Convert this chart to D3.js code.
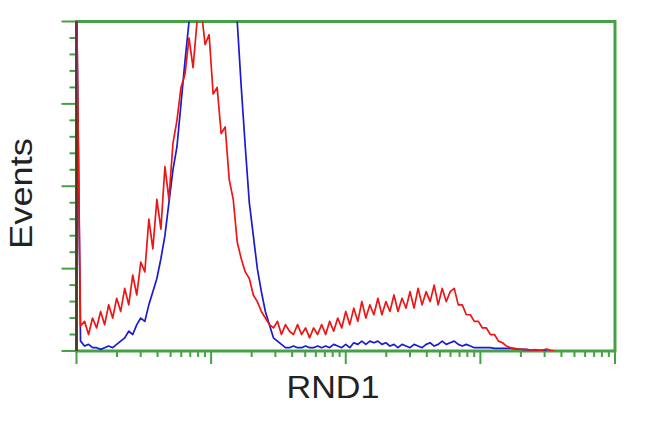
<!DOCTYPE html>
<html><head><meta charset="utf-8">
<script src="https://cdn.jsdelivr.net/npm/d3@7"></script>
<style>html,body{margin:0;padding:0;background:#fff;}svg{display:block;}</style>
</head><body>
<svg id="chart" width="650" height="432"></svg>
<script>
// Histogram channel counts (channel index = bin across the 4-decade log axis)
const redCounts = [110,7.6,9,5,10,7,12,8,14,10,16,12,19,14,23,17,27,24,40,31,46,37,56,46,63,70,80,84,95,86,100,104,93,96,78,80,66,68,52,46,33,28,24,22,17,15,12,10,8,7,9,5,8,6,5,8,5,7,4,7,5,8,5,9,6,10,7,12,8,13,9,15,10,14,11,16,11,15,12,17,12,16,13,18,13,19,14,18,15,20,14,19,15,18,19,14,14,11,11,9,9,7,7,5,5,3,2.5,1.5,1,0.8,0.6,0.5,0.5,0.3,0.4,0.2,0.3,0.6,0.2,0];
const blueCounts = [110,3,1.5,2,1,1,0.5,1,1.5,1,2,3,4,6,5,8,10,9,14,18,22,28,35,45,55,62,75,88,100,108,105,110,108,110,112,110,108,110,106,104,100,80,62,45,35,25,18,12,8,4,3,2,1,1,1.5,1,1,1.5,1,1,1.5,1,1.5,1,2,1.5,1,2,1,2.5,2,3,2,3,2.5,3,2,2.5,1.5,2,1,2,1.5,1,2,1.5,1,2,2.5,1.5,2,3,2,2.5,3,2,1.5,2,1.5,1,1,1,1,1,0.8,0.8,0.8,0.8,0.8,0.6,0.6,0.5,0.4,0.3,0.3,0.2,0.2,0];
const channelCount = 135;
const decadeTicks = [1,10,100,1000,10000];
const eventTicks = [0,25,50,75,100];
const xLabel = "RND1";
const yLabel = "Events";

const svg = d3.select("#chart");
const L = 76.5, R = 615, T = 21.5, B = 351;
const green = "#45a145";

const xCh = d3.scaleLinear().domain([0, channelCount - 1]).range([L, R]);
const xLog = d3.scaleLog().domain([1, 10000]).range([L, R]);
const y = d3.scaleLinear().domain([0, 100]).range([B, T]);

svg.append("defs").append("clipPath").attr("id","clip")
  .append("rect").attr("x", L).attr("y", T).attr("width", R - L).attr("height", B - T);

// left axis ticks (major + minor)
const yMinor = d3.range(0, 100.01, 5).filter(v => v % 25 !== 0);
svg.append("g").selectAll("line.min").data(yMinor).join("line")
  .attr("x1", L - 7).attr("x2", L).attr("y1", d => y(d)).attr("y2", d => y(d))
  .attr("stroke", green).attr("stroke-width", 2);
svg.append("g").selectAll("line.maj").data(eventTicks).join("line")
  .attr("x1", L - 15).attr("x2", L).attr("y1", d => y(d)).attr("y2", d => y(d))
  .attr("stroke", green).attr("stroke-width", 2);

// bottom axis ticks (log)
const xMinor = [];
for (let d = 1; d < 10000; d *= 10) for (let k = 2; k <= 9; k++) xMinor.push(d * k);
svg.append("g").selectAll("line").data(xMinor).join("line")
  .attr("x1", d => xLog(d)).attr("x2", d => xLog(d)).attr("y1", B).attr("y2", B + 6)
  .attr("stroke", green).attr("stroke-width", 2);
svg.append("g").selectAll("line").data(decadeTicks).join("line")
  .attr("x1", d => xLog(d)).attr("x2", d => xLog(d)).attr("y1", B).attr("y2", B + 13)
  .attr("stroke", green).attr("stroke-width", 2);

// frame
svg.append("rect").attr("x", L).attr("y", T).attr("width", R - L).attr("height", B - T)
  .attr("fill", "none").attr("stroke", green).attr("stroke-width", 3);
svg.append("line").attr("x1", L).attr("x2", L).attr("y1", T).attr("y2", B)
  .attr("stroke", "#4a3a1a").attr("stroke-width", 2.5);

const line = d3.line().x((d, i) => xCh(i)).y(d => y(d));
const g = svg.append("g").attr("clip-path", "url(#clip)");
g.append("path").datum(blueCounts).attr("d", line).attr("fill", "none")
  .attr("stroke", "#1a1ad0").attr("stroke-width", 1.7).attr("stroke-linejoin", "round");
g.append("path").datum(redCounts).attr("d", line).attr("fill", "none")
  .attr("stroke", "#ee1515").attr("stroke-width", 1.7).attr("stroke-linejoin", "round");

// labels
svg.append("text").attr("x", 333).attr("y", 398).attr("text-anchor", "middle")
  .attr("font-family", "Liberation Sans, Arial, sans-serif").attr("font-size", 32)
  .attr("fill", "#222").attr("textLength", 93).attr("lengthAdjust", "spacingAndGlyphs").text(xLabel);
svg.append("text").attr("transform", "translate(32,193.5) rotate(-90)").attr("text-anchor", "middle")
  .attr("font-family", "Liberation Sans, Arial, sans-serif").attr("font-size", 31)
  .attr("fill", "#222").attr("textLength", 111).attr("lengthAdjust", "spacingAndGlyphs").text(yLabel);
</script>
</body></html>
